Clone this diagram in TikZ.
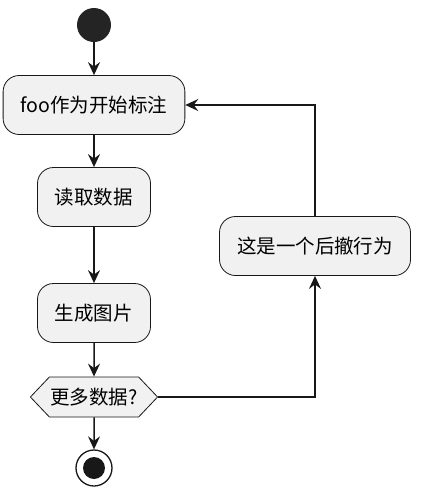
\documentclass[tikz,border=0pt]{standalone}
\usepackage{fontspec}
\setmainfont{Noto Sans CJK SC}
\usetikzlibrary{arrows.meta,shapes.symbols}
\definecolor{boxfill}{HTML}{F1F1F1}
\definecolor{linecol}{HTML}{181818}
\tikzset{
  action/.style={draw=linecol, line width=0.8pt, fill=boxfill, rounded corners=16pt,
    minimum height=59pt, inner xsep=17.5pt, font=\fontsize{19.5}{23}\selectfont},
  decision/.style={draw=linecol, line width=0.8pt, fill=boxfill, shape=signal,
    signal to=west and east, signal pointer angle=93, minimum height=40pt,
    inner xsep=1pt, inner ysep=0pt, font=\fontsize{19.5}{23}\selectfont},
  startdot/.style={circle, fill=linecol!95!white, minimum size=34pt, inner sep=0pt},
  stopdot/.style={circle, draw=linecol, line width=1.3pt, fill=white, minimum size=36pt, inner sep=0pt},
  arr/.style={draw=linecol, line width=1.5pt, -{Stealth[length=13pt,width=12pt,inset=4.5pt]}}
}
\begin{document}
\begin{tikzpicture}[x=1pt,y=-1pt]
\useasboundingbox (0,0) rectangle (425,491);
\node[startdot] (start) at (94,25) {};
\node[action] (foo) at (94,105) {foo作为开始标注};
\node[action] (read) at (94,197) {读取数据};
\node[action] (gen) at (94,313) {生成图片};
\node[decision] (more) at (94,397) {更多数据?};
\node[stopdot] (stop) at (94,468) {};
\fill[linecol] (stop) circle (11);
\node[action] (back) at (315,246) {这是一个后撤行为};
\draw[arr] (start) -- (foo);
\draw[arr] (foo) -- (read);
\draw[arr] (read) -- (gen);
\draw[arr] (gen) -- (more);
\draw[arr] (more) -- (stop);
\draw[arr] (more.east) -| (back.south);
\draw[arr] (back.north) |- (foo.east);
\end{tikzpicture}
\end{document}
